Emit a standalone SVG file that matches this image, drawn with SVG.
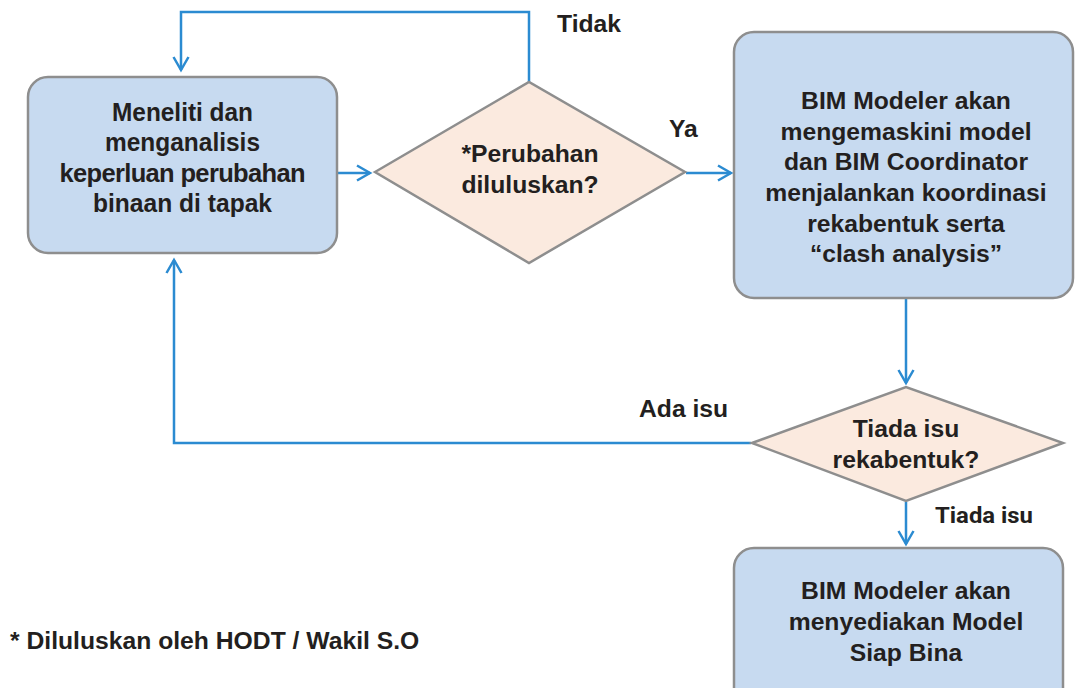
<svg xmlns="http://www.w3.org/2000/svg" width="1075" height="688" viewBox="0 0 1075 688">
<style>
.box{fill:#c7daf0;stroke:#8e8e8e;stroke-width:2.5}
.dia{fill:#fbeadf;stroke:#8e8e8e;stroke-width:2.5}
.con{fill:none;stroke:#2b8bd1;stroke-width:2.5}
text{font-family:"Liberation Sans",Arial,sans-serif;font-weight:bold;fill:#231f20;font-size:24.7px}
.c{text-anchor:middle}
.b1{font-size:25.5px}
.alt{font-family:Roboto,"Liberation Sans",sans-serif;font-size:22px}
</style>
<defs>
<marker id="ah" viewBox="-16 -10 20 20" refX="0" refY="0" markerWidth="20" markerHeight="20" orient="auto" markerUnits="userSpaceOnUse">
<path d="M-13,-7.5 L0,0 L-13,7.5" fill="none" stroke="#2b8bd1" stroke-width="2.5"/>
</marker>
</defs>
<g id="connectors">
<polyline class="con" points="529,82 529,12 181,12 181,70" marker-end="url(#ah)"/>
<line class="con" x1="338" y1="173" x2="370" y2="173" marker-end="url(#ah)"/>
<line class="con" x1="686" y1="173" x2="731" y2="173" marker-end="url(#ah)"/>
<line class="con" x1="906" y1="298" x2="906" y2="383" marker-end="url(#ah)"/>
<polyline class="con" points="751,443 174,443 174,260" marker-end="url(#ah)"/>
<line class="con" x1="906" y1="502" x2="906" y2="544" marker-end="url(#ah)"/>
<text x="557" y="32">Tidak</text>
<text x="669" y="137">Ya</text>
<text x="639" y="417">Ada isu</text>
<text class="alt" x="935" y="523" textLength="98" lengthAdjust="spacingAndGlyphs">Tiada isu</text>
</g>
<g id="node-analisis">
<rect class="box" x="28" y="77" width="309" height="176" rx="20"/>
<text class="c b1" x="182.5" y="120.5" textLength="141" lengthAdjust="spacingAndGlyphs">Meneliti dan</text>
<text class="c b1" x="182.5" y="151" textLength="155" lengthAdjust="spacingAndGlyphs">menganalisis</text>
<text class="c b1" x="182.5" y="181.5" textLength="246">keperluan perubahan</text>
<text class="c b1" x="182.5" y="212" textLength="179" lengthAdjust="spacingAndGlyphs">binaan di tapak</text>
</g>
<g id="node-perubahan">
<polygon class="dia" points="375,172 529,82 685,172 529,263"/>
<text class="c" x="530" y="162">*Perubahan</text>
<text class="c" x="530" y="193">diluluskan?</text>
</g>
<g id="node-modeler">
<rect class="box" x="734" y="32" width="339" height="266" rx="20"/>
<text class="c" x="906" y="109">BIM Modeler akan</text>
<text class="c" x="906" y="139.5">mengemaskini model</text>
<text class="c" x="906" y="170">dan BIM Coordinator</text>
<text class="c" x="906" y="201">menjalankan koordinasi</text>
<text class="c" x="906" y="231.5">rekabentuk serta</text>
<text class="c" x="906" y="262">“clash analysis”</text>
</g>
<g id="node-isu">
<polygon class="dia" points="752,443 906,387 1063,443 906,501"/>
<text class="c" x="906" y="437">Tiada isu</text>
<text class="c" x="906" y="468">rekabentuk?</text>
</g>
<g id="node-siap">
<rect class="box" x="734" y="548" width="329" height="160" rx="20"/>
<text class="c" x="906" y="599">BIM Modeler akan</text>
<text class="c" x="906" y="630">menyediakan Model</text>
<text class="c" x="906" y="661">Siap Bina</text>
</g>
<g id="footnote">
<text x="10" y="649">* Diluluskan oleh HODT / Wakil S.O</text>
</g>
</svg>
